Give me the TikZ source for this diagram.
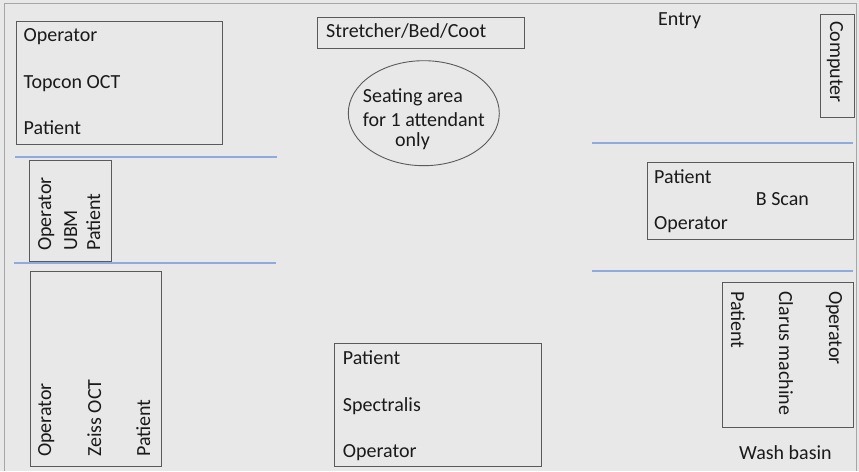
\documentclass[tikz,border=0pt]{standalone}
\usepackage{fontspec}
\setmainfont{Carlito}
\usetikzlibrary{shapes.geometric}
\definecolor{bgc}{HTML}{E8E8E8}
\definecolor{framec}{HTML}{A6A6A6}
\definecolor{boxc}{HTML}{5A5A5A}
\definecolor{bluec}{HTML}{8FAADC}
\definecolor{txtc}{HTML}{1A1A1A}
\begin{document}
\begin{tikzpicture}[x=1pt,y=-1pt,
  roombox/.style={draw=boxc, line width=0.9pt, rectangle, inner sep=0pt, anchor=north west},
  lbl/.style={inner sep=0pt, anchor=base west, text=txtc, font=\fontsize{20}{24}\selectfont},
  wall/.style={draw=bluec, line width=2pt}]
\useasboundingbox (0,0) rectangle (859,471);
\fill[bgc] (0,0) rectangle (859,471);
\draw[framec, line width=1pt] (4,471) -- (4,3.3) -- (856,3.3) -- (856,471);

% Topcon
\node[roombox, minimum width=206.6pt, minimum height=123.3pt] (topcon) at (15.7,20.7) {};
\node[lbl] (t1) at (23.5,41) {Operator};
\node[lbl] (t2) at (23.5,88.3) {Topcon OCT};
\node[lbl] (t3) at (23.5,134.3) {Patient};

% walls
\coordinate (w1a) at (15,157); \coordinate (w1b) at (277,157);
\coordinate (w2a) at (14,263); \coordinate (w2b) at (276,263);
\coordinate (w3a) at (591.5,143); \coordinate (w3b) at (853,143);
\coordinate (w4a) at (591.5,271); \coordinate (w4b) at (853,271);
\draw[wall] (w1a) -- (w1b);
\draw[wall] (w2a) -- (w2b);
\draw[wall] (w3a) -- (w3b);
\draw[wall] (w4a) -- (w4b);

% UBM
\node[roombox, minimum width=81.7pt, minimum height=101pt] (ubm) at (29,160) {};
\node[lbl, rotate=90] (u1) at (51,251) {Operator};
\node[lbl, rotate=90] (u2) at (77,251) {UBM};
\node[lbl, rotate=90] (u3) at (100,251) {Patient};

% Zeiss
\node[roombox, minimum width=131pt, minimum height=195pt] (zeiss) at (30,271) {};
\node[lbl, rotate=90] (z1) at (51,457) {Operator};
\node[lbl, rotate=90] (z2) at (101,457) {Zeiss OCT};
\node[lbl, rotate=90] (z3) at (150,457) {Patient};

% Stretcher
\node[roombox, minimum width=207.6pt, minimum height=31pt] (bed) at (316.7,17.3) {};
\node[lbl] (b1) at (326,37.7) {Stretcher/Bed/Coot};

% Seating ellipse
\node[draw=boxc, line width=0.9pt, ellipse, minimum width=151pt, minimum height=105pt, inner sep=0pt] (seat) at (423.8,113.2) {};
\node[lbl] (s1) at (362.7,102.7) {Seating area};
\node[lbl] (s2) at (362.7,126) {for 1 attendant};
\node[lbl] (s3) at (395,146.7) {only};

% Entry
\node[lbl] (entry) at (658,25) {Entry};

% Computer
\node[roombox, minimum width=34pt, minimum height=103pt] (comp) at (819.5,14) {};
\node[lbl, rotate=-90] (c1) at (830,21) {Computer};

% B Scan
\node[roombox, minimum width=206pt, minimum height=76.7pt] (bscan) at (647,162.3) {};
\node[lbl] (bs1) at (654,183) {Patient};
\node[lbl] (bs2) at (755.7,205.7) {B Scan};
\node[lbl] (bs3) at (654,229) {Operator};

% Clarus
\node[roombox, minimum width=131pt, minimum height=145pt] (clarus) at (721.7,282.3) {};
\node[lbl, rotate=-90] (cl1) at (731,291) {Patient};
\node[lbl, rotate=-90] (cl2) at (779,291) {Clarus machine};
\node[lbl, rotate=-90] (cl3) at (829,291) {Operator};

% Wash basin
\node[lbl] (wash) at (739,459) {Wash basin};

% Spectralis
\node[roombox, minimum width=207pt, minimum height=122.7pt] (spec) at (334,343.3) {};
\node[lbl] (sp1) at (342.7,364.3) {Patient};
\node[lbl] (sp2) at (342.7,411) {Spectralis};
\node[lbl] (sp3) at (342.7,457.7) {Operator};
\end{tikzpicture}
\end{document}
